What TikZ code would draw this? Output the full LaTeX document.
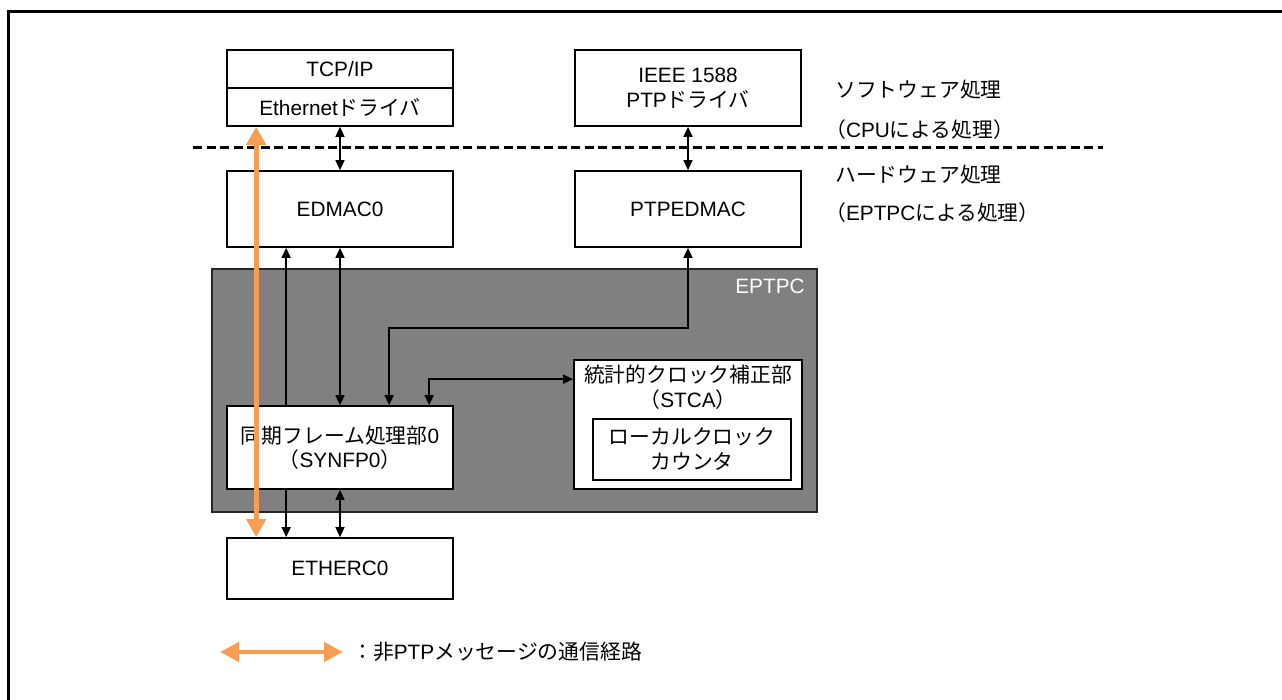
\documentclass[tikz,border=0pt]{standalone}
\usepackage{fontspec}
\setmainfont{Liberation Sans}
\newfontfamily\jpfont{Noto Sans CJK JP}
\newcommand\jtxt[1]{{\jpfont #1}}
\usetikzlibrary{arrows.meta}
\definecolor{orangepath}{RGB}{247,158,84}
\definecolor{eptpcgray}{RGB}{128,128,128}
\begin{document}
\begin{tikzpicture}[x=1pt,y=-1pt,
  every node/.style={font=\fontsize{20.8}{25}\selectfont},
  blk/.style={draw=black,line width=1.7pt,fill=white,inner sep=0pt,align=center},
  arr/.style={line width=1.6pt,-{Triangle[length=10pt,width=9pt]}},
  darr/.style={line width=1.6pt,{Triangle[length=10pt,width=9pt]}-{Triangle[length=10pt,width=9pt]}},
  oarr/.style={draw=orangepath,line width=5pt,{Triangle[length=18pt,width=19pt]}-{Triangle[length=18pt,width=19pt]}},
  lbl/.style={anchor=west,inner sep=0pt}
]
\useasboundingbox (0,0) rectangle (1282,700);
% outer frame (only top and left visible)
\draw[line width=3pt] (8,700) -- (8,12) -- (1282,12);

% software boxes
\node[blk,minimum width=226pt,minimum height=38pt] (tcp) at (340,69) {TCP/IP};
\node[blk,minimum width=226pt,minimum height=38pt] (eth) at (340,107) {Ethernet\jtxt{ドライバ}};
\node[blk,minimum width=226pt,minimum height=76pt] (ieee) at (688,88) {IEEE 1588\\PTP\jtxt{ドライバ}};

% separator
\draw[line width=3pt,dash pattern=on 9pt off 4.5pt] (193,148) -- (1103,148);

% side labels
\node[lbl] (sw) at (835,90) {\jtxt{ソフトウェア処理}};
\node[lbl] (swc) at (825,130) {\jtxt{（}CPU\jtxt{による処理）}};
\node[lbl] (hw) at (835,175) {\jtxt{ハードウェア処理}};
\node[lbl] (hwc) at (825,213) {\jtxt{（}EPTPC\jtxt{による処理）}};

% hardware boxes
\node[blk,minimum width=226pt,minimum height=76pt] (edmac) at (340,209) {EDMAC0};
\node[blk,minimum width=226pt,minimum height=76pt] (ptpedmac) at (688,209) {PTPEDMAC};

% EPTPC
\node[draw=black!85,line width=1.7pt,fill=eptpcgray,minimum width=605pt,minimum height=243pt,inner sep=0pt] (eptpc) at (514.5,390.5) {};
\node[anchor=east,text=white,inner sep=0pt] (eptpclbl) at ([xshift=-13pt,yshift=-18pt]eptpc.north east) {EPTPC};

\node[blk,minimum width=226pt,minimum height=83pt] (synfp) at (340,447.5) {\jtxt{同期フレーム処理部}0\\[-1pt]\jtxt{（}SYNFP0\jtxt{）}};
\node[blk,minimum width=228pt,minimum height=129pt] (stca) at (688,424.5) {};
\node[anchor=north,inner sep=0pt,align=center] (stcalbl) at ([yshift=-6pt]stca.north) {\jtxt{統計的クロック補正部}\\\jtxt{（}STCA\jtxt{）}};
\node[blk,minimum width=198pt,minimum height=61pt,line width=1.5pt] (llc) at (692,449.5) {\jtxt{ローカルクロック}\\\jtxt{カウンタ}};

\node[blk,minimum width=226pt,minimum height=61pt] (etherc) at (340,568.5) {ETHERC0};

% connectors
\draw[darr] (eth.south) -- (edmac.north);
\draw[darr] (ieee.south) -- (ptpedmac.north);
\draw[arr] ([xshift=60pt]synfp.north west) -- ([xshift=60pt]edmac.south west);
\draw[darr] (edmac.south) -- (synfp.north);
\draw[arr] ([xshift=60pt]synfp.south west) -- ([xshift=60pt]etherc.north west);
\draw[darr] (synfp.south) -- (etherc.north);
\draw[darr] (ptpedmac.south) |- ([xshift=163pt,yshift=77pt]synfp.north west) -- ([xshift=163pt]synfp.north west);
\draw[darr] ([xshift=203pt]synfp.north west) |- ([yshift=-20pt]stca.north west);

% non-PTP path
\draw[oarr] ([xshift=30pt]eth.south west) -- ([xshift=30pt]etherc.north west);

% legend
\coordinate (lga) at (220,652);
\coordinate (lgb) at (343,652);
\draw[draw=orangepath,line width=4.5pt,{Triangle[length=19pt,width=19pt]}-{Triangle[length=19pt,width=19pt]}] (lga) -- (lgb);
\node[lbl] (lgt) at (352,652) {\jtxt{：非}PTP\jtxt{メッセージの通信経路}};
\end{tikzpicture}
\end{document}
